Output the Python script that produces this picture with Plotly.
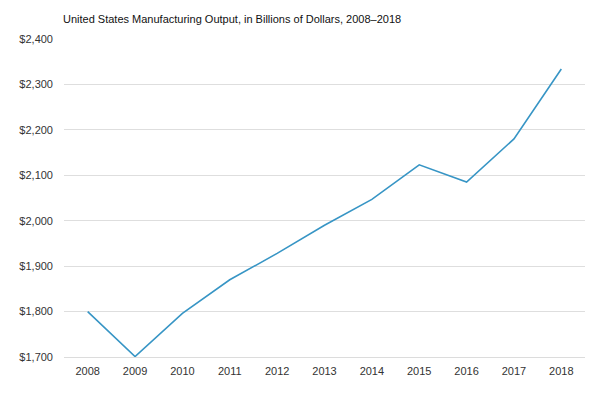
import plotly.graph_objects as go

years = ["2008", "2009", "2010", "2011", "2012", "2013", "2014", "2015", "2016", "2017", "2018"]
output = [1800, 1701, 1796, 1870, 1928, 1990, 2047, 2123, 2085, 2180, 2334]
y_ticks = [1700, 1800, 1900, 2000, 2100, 2200, 2300, 2400]
y_labels = ["$1,700", "$1,800", "$1,900", "$2,000", "$2,100", "$2,200", "$2,300", "$2,400"]

fig = go.Figure(go.Scatter(
    x=years, y=output, mode="lines",
    line=dict(color="#3795c5", width=1.6),
    hoverinfo="x+y",
))

fig.update_layout(
    width=600, height=399,
    margin=dict(l=64, r=15, t=39, b=42),
    paper_bgcolor="white", plot_bgcolor="white",
    font=dict(family="Liberation Sans, Arial, sans-serif", size=11, color="#333"),
    title=dict(text="United States Manufacturing Output, in Billions of Dollars, 2008–2018",
               x=63/600, xanchor="left", y=1-19.5/399, yanchor="middle",
               font=dict(size=11, color="#111")),
    showlegend=False,
)
fig.update_xaxes(type="category", range=[-0.5, 10.5], showgrid=False,
                 showline=True, linecolor="#dcdcdc", linewidth=1,
                 ticks="", tickfont=dict(size=11, color="#333"), ticklabelstandoff=4)
fig.update_yaxes(range=[1700, 2400], tickvals=y_ticks, ticktext=y_labels,
                 showgrid=True, gridcolor="#dedede", gridwidth=1, zeroline=False,
                 ticks="", tickfont=dict(size=11, color="#333"), ticklabelstandoff=10)

fig.write_html("out.html", config={"displayModeBar": False},
               post_script="document.body.style.margin='0';")
